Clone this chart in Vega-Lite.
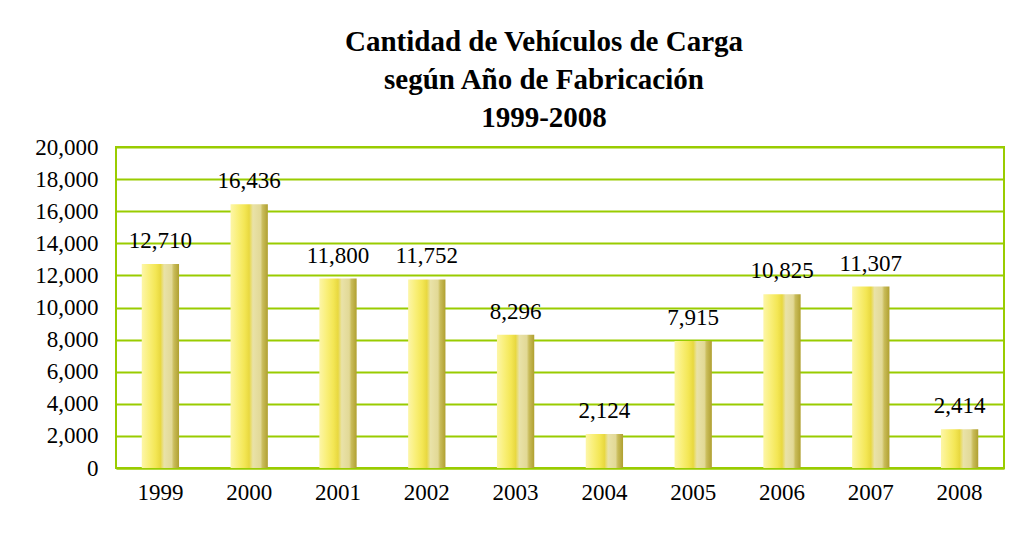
{
  "$schema": "https://vega.github.io/schema/vega-lite/v6.json",
  "autosize": "none",
  "width": 888,
  "height": 321,
  "padding": {"left": 116, "top": 147, "right": 12, "bottom": 84},
  "background": "white",
  "title": {
    "text": ["Cantidad de Vehículos de Carga", "según Año de Fabricación", "1999-2008"],
    "font": "Liberation Serif",
    "fontSize": 29,
    "fontWeight": "bold",
    "color": "black",
    "lineHeight": 38,
    "anchor": "middle",
    "dx": -16,
    "offset": 3
  },
  "data": {
    "values": [
      {"year": "1999", "value": 12710},
      {"year": "2000", "value": 16436},
      {"year": "2001", "value": 11800},
      {"year": "2002", "value": 11752},
      {"year": "2003", "value": 8296},
      {"year": "2004", "value": 2124},
      {"year": "2005", "value": 7915},
      {"year": "2006", "value": 10825},
      {"year": "2007", "value": 11307},
      {"year": "2008", "value": 2414}
    ]
  },
  "encoding": {
    "x": {
      "field": "year", "type": "ordinal", "title": null,
      "scale": {"paddingInner": 0, "paddingOuter": 0},
      "axis": {"labelAngle": 0, "labelFont": "Liberation Serif", "labelFontSize": 23, "labelColor": "black", "labelPadding": 13, "ticks": false, "domainColor": "#99cc00", "domainWidth": 2}
    },
    "y": {
      "field": "value", "type": "quantitative", "title": null,
      "scale": {"domain": [0, 20000]},
      "axis": {"values": [0,2000,4000,6000,8000,10000,12000,14000,16000,18000,20000], "format": ",d", "labelFont": "Liberation Serif", "labelFontSize": 23, "labelColor": "black", "labelPadding": 18, "ticks": false, "domain": false, "grid": true, "gridColor": "#99cc00", "gridWidth": 2, "gridOpacity": 1}
    }
  },
  "layer": [
    {
      "mark": {
        "type": "bar",
        "width": {"band": 0.42},
        "color": {
          "gradient": "linear", "x1": 0, "y1": 0, "x2": 1, "y2": 0,
          "stops": [
            {"offset": 0, "color": "#fdf6a8"},
            {"offset": 0.2, "color": "#f9ef78"},
            {"offset": 0.38, "color": "#f3e654"},
            {"offset": 0.5, "color": "#e8d840"},
            {"offset": 0.6, "color": "#e9e2a8"},
            {"offset": 0.8, "color": "#e2d996"},
            {"offset": 0.86, "color": "#c9bc5a"},
            {"offset": 1, "color": "#b0a030"}
          ]
        }
      }
    },
    {
      "mark": {"type": "text", "baseline": "bottom", "dy": -11, "font": "Liberation Serif", "fontSize": 23, "color": "black"},
      "encoding": {"text": {"field": "value", "type": "quantitative", "format": ",d"}}
    }
  ],
  "config": {
    "view": {"stroke": "#99cc00", "strokeWidth": 2}
  }
}
